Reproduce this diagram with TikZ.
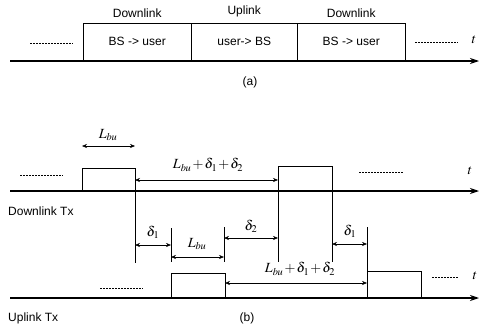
\documentclass[tikz,border=0pt]{standalone}
\usepackage{mathptmx}
\usepackage[no-math]{fontspec}
\setmainfont{Liberation Sans}
\usetikzlibrary{arrows.meta,positioning}
\tikzset{
  axis/.style={line width=1.1pt,-{Stealth[length=9pt,width=6pt]}},
  pulse/.style={draw,line width=0.5pt},
  guide/.style={line width=0.6pt},
  dim/.style={line width=0.5pt,{Stealth[length=5pt,width=4pt]}-{Stealth[length=5pt,width=4pt]}},
  lbl/.style={font=\fontsize{12}{14}\selectfont,inner sep=0pt},
  mlbl/.style={font=\fontsize{14}{16}\selectfont,inner sep=0pt},
  dots/.style={line width=1pt,dash pattern=on 2pt off 1pt},
  slot/.style={draw,line width=0.5pt,anchor=south west,minimum height=38pt,inner sep=0pt,font=\fontsize{12}{14}\selectfont}
}
\newcommand{\sumlabel}{$L_{bu}\mskip-1mu+\mskip-1mu\delta_1\mskip-1mu+\mskip-1mu\delta_2$}
\begin{document}
\begin{tikzpicture}[x=1pt,y=-1pt]
\useasboundingbox (0,0) rectangle (482,324);
% ---------- (a)
\coordinate (a0) at (10,61);
\coordinate (a1) at (479,61);
\draw[axis] (a0) -- (a1);
\node[slot,minimum width=108pt] (s1) at (83,61) {BS -> user};
\node[slot,minimum width=106pt] (s2) at (191,61) {user-> BS};
\node[slot,minimum width=108pt] (s3) at (297,61) {BS -> user};
\node[lbl,above=5pt of s1.north] (h1) {Downlink};
\node[lbl,above=5pt of s2.north] (h2) {Uplink};
\node[lbl,above=5pt of s3.north] (h3) {Downlink};
\draw[dots] (30,43) -- (73,43);
\draw[dots] (415,42) -- (458,42);
\node[mlbl] (ta) at (474,40) {$t$};
\node[lbl] (capa) at (250,82) {(a)};
% ---------- (b) downlink
\coordinate (d0) at (10,191);
\coordinate (d1) at (479,191);
\draw[axis] (d0) -- (d1);
\draw[pulse] (82,191) rectangle (135,168);
\draw[pulse] (278,191) rectangle (332,166);
\coordinate (p1l) at (82,146); \coordinate (p1r) at (135,146);
\draw[dim] (p1l) -- (p1r);
\node[mlbl] (lb1) at (108,135) {$L_{bu}$};
\coordinate (q1) at (135,180); \coordinate (q2) at (278,180);
\draw[dim] (q1) -- (q2);
\node[mlbl] (lg1) at (208,165) {\sumlabel};
\draw[dots] (20,175) -- (63,175);
\draw[dots] (359,172) -- (403,172);
\node[mlbl] (tb1) at (470,171) {$t$};
\node[lbl,anchor=west] (dtx) at (8,211) {Downlink Tx};
% guides
\draw[guide] (135,168) -- (135,263);
\draw[guide] (278,166) -- (278,262);
\draw[guide] (332,166) -- (332,262);
\draw[guide] (171,228) -- (171,262);
\draw[guide] (224,227) -- (224,262);
\draw[guide] (367,227) -- (367,298);
% gap arrows
\coordinate (g1) at (135,245); \coordinate (g2) at (171,245);
\draw[dim] (g1) -- (g2);
\node[mlbl] (dl1) at (153,232) {$\delta_1$};
\coordinate (g3) at (171,257); \coordinate (g4) at (224,257);
\draw[dim] (g3) -- (g4);
\node[mlbl] (lb2) at (197,244) {$L_{bu}$};
\coordinate (g5) at (224,238); \coordinate (g6) at (278,238);
\draw[dim] (g5) -- (g6);
\node[mlbl] (dl2) at (251,226) {$\delta_2$};
\coordinate (g7) at (332,244); \coordinate (g8) at (367,244);
\draw[dim] (g7) -- (g8);
\node[mlbl] (dl3) at (350,231) {$\delta_1$};
% ---------- (b) uplink
\coordinate (u0) at (10,298);
\coordinate (u1) at (479,298);
\draw[axis] (u0) -- (u1);
\draw[pulse] (171,298) rectangle (225,273);
\draw[pulse] (367,298) rectangle (421,271);
\coordinate (r1) at (225,283); \coordinate (r2) at (367,283);
\draw[dim] (r1) -- (r2);
\node[mlbl] (lg2) at (300,269) {\sumlabel};
\draw[dots] (100,288) -- (143,288);
\draw[dots] (432,277) -- (458,277);
\node[mlbl] (tb2) at (475,276) {$t$};
\node[lbl,anchor=west] (utx) at (8,318) {Uplink Tx};
\node[lbl] (capb) at (247,318) {(b)};
\end{tikzpicture}
\end{document}
